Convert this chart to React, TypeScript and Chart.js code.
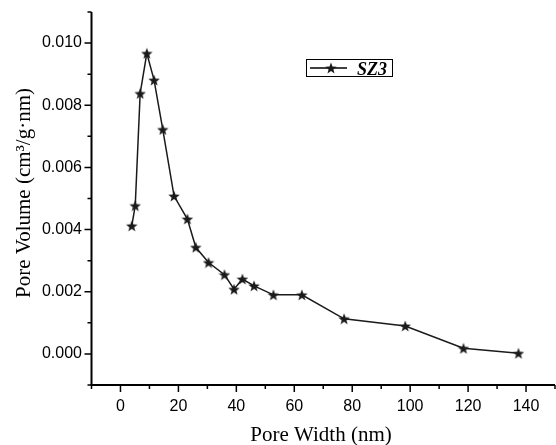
import React, { useEffect, useRef } from "react";
import { Chart, registerables } from "chart.js";
Chart.register(...registerables);

const poreWidth = [3.9, 5.1, 6.8, 9.1, 11.6, 14.6, 18.5, 23.1, 26.0, 30.4, 35.9, 39.2, 42.1, 46.1, 52.8, 62.6, 77.2, 98.3, 118.4, 137.4];
const poreVolume = [0.00412, 0.00477, 0.00838, 0.00967, 0.00881, 0.00722, 0.00508, 0.00434, 0.00343, 0.00294, 0.00255, 0.00208, 0.00241, 0.00219, 0.0019, 0.0019, 0.00113, 0.0009, 0.00018, 0.00002];
const seriesName = "SZ3";
const xTitle = "Pore Width (nm)";
const yTitle = "Pore Volume (cm³/g·nm)";
const xTickValues = [0, 20, 40, 60, 80, 100, 120, 140];
const yTickValues = [0, 0.002, 0.004, 0.006, 0.008, 0.01];
const xMinorTicks = [-10, 10, 30, 50, 70, 90, 110, 130, 150];
const yMinorTicks = [-0.001, 0.001, 0.003, 0.005, 0.007, 0.009, 0.011];

function makeStar(size: number, color: string) {
  const c = document.createElement("canvas");
  c.width = size;
  c.height = size;
  const ctx = c.getContext("2d")!;
  const cx = size / 2, cy = size / 2;
  const R = size / 2, r = R * 0.42;
  ctx.beginPath();
  for (let i = 0; i < 10; i++) {
    const rad = i % 2 === 0 ? R : r;
    const a = -Math.PI / 2 + (i * Math.PI) / 5;
    const x = cx + rad * Math.cos(a);
    const y = cy + rad * Math.sin(a) + R * 0.1;
    if (i === 0) ctx.moveTo(x, y);
    else ctx.lineTo(x, y);
  }
  ctx.closePath();
  ctx.fillStyle = color;
  ctx.fill();
  return c;
}

export default function App() {
  const ref = useRef<HTMLCanvasElement>(null);
  useEffect(() => {
    const canvas = ref.current!;
    const star = makeStar(12, "#1a1a1a");
    const decor = {
      id: "decor",
      afterDraw(chart: any) {
        const ctx = chart.ctx;
        const xs = chart.scales.x, ys = chart.scales.y;
        const { left, right, top, bottom } = chart.chartArea;
        ctx.save();
        ctx.strokeStyle = "#000";
        ctx.lineWidth = 2;
        ctx.beginPath();
        ctx.moveTo(left, top);
        ctx.lineTo(left, bottom);
        ctx.lineTo(right, bottom);
        ctx.stroke();
        ctx.lineWidth = 1.5;
        ctx.beginPath();
        for (const v of xTickValues) {
          const p = xs.getPixelForValue(v);
          ctx.moveTo(p, bottom); ctx.lineTo(p, bottom + 7);
        }
        for (const v of xMinorTicks) {
          const p = xs.getPixelForValue(v);
          ctx.moveTo(p, bottom); ctx.lineTo(p, bottom + 4);
        }
        for (const v of yTickValues) {
          const p = ys.getPixelForValue(v);
          ctx.moveTo(left, p); ctx.lineTo(left - 7, p);
        }
        for (const v of yMinorTicks) {
          const p = ys.getPixelForValue(v);
          ctx.moveTo(left, p); ctx.lineTo(left - 4, p);
        }
        ctx.stroke();
        // titles
        ctx.fillStyle = "#000";
        ctx.font = '21px "Liberation Serif"';
        ctx.textAlign = "center";
        ctx.textBaseline = "alphabetic";
        ctx.fillText(xTitle, 321, 441);
        ctx.save();
        ctx.translate(30, 193);
        ctx.rotate(-Math.PI / 2);
        ctx.fillText(yTitle, 0, 0);
        ctx.restore();
        // legend
        ctx.lineWidth = 1;
        ctx.strokeRect(306.5, 59.5, 86, 17);
        ctx.lineWidth = 1.5;
        ctx.beginPath();
        ctx.moveTo(310, 68);
        ctx.lineTo(347, 68);
        ctx.stroke();
        ctx.drawImage(star, 331 - 6, 68 - 6);
        ctx.font = 'italic bold 18px "Liberation Serif"';
        ctx.textAlign = "left";
        ctx.fillText(seriesName, 357, 75);
        ctx.restore();
      },
    };
    const chart = new Chart(canvas, {
      type: "line",
      data: {
        datasets: [
          {
            label: seriesName,
            data: poreWidth.map((x, i) => ({ x, y: poreVolume[i] })),
            borderColor: "#1a1a1a",
            borderWidth: 1.5,
            pointStyle: star as any,
            pointRadius: 6,
            tension: 0,
            fill: false,
          },
        ],
      },
      options: {
        responsive: false,
        animation: false,
        layout: { autoPadding: false, padding: { top: 12, right: 1, left: 0, bottom: 0 } },
        plugins: { legend: { display: false }, tooltip: { enabled: false } },
        scales: {
          x: {
            type: "linear",
            min: -10,
            max: 150,
            grid: { display: false, drawTicks: false },
            border: { display: false },
            afterBuildTicks: (s: any) => {
              s.ticks = xTickValues.map((v) => ({ value: v }));
            },
            afterFit: (s: any) => {
              s.height = 60;
              s.paddingLeft = 0;
              s.paddingRight = 0;
            },
            ticks: {
              autoSkip: false,
              maxRotation: 0,
              padding: 12,
              color: "#000",
              font: { family: '"Liberation Sans"', size: 16 },
              callback: (v: any) => String(v),
            },
          },
          y: {
            type: "linear",
            min: -0.001,
            max: 0.011,
            grid: { display: false, drawTicks: false },
            border: { display: false },
            afterBuildTicks: (s: any) => {
              s.ticks = yTickValues.map((v) => ({ value: v }));
            },
            afterFit: (s: any) => {
              s.width = 91.5;
              s.paddingTop = 0;
              s.paddingBottom = 0;
            },
            ticks: {
              autoSkip: false,
              padding: 9.5,
              color: "#000",
              font: { family: '"Liberation Sans"', size: 16 },
              callback: (v: any) => Number(v).toFixed(3),
            },
          },
        },
      },
      plugins: [decor],
    });
    return () => chart.destroy();
  }, []);
  return (
    <div style={{ position: "absolute", left: 0, top: 0, width: 556, height: 445, background: "#fff" }}>
      <canvas ref={ref} width={556} height={445} style={{ display: "block" }} />
    </div>
  );
}
